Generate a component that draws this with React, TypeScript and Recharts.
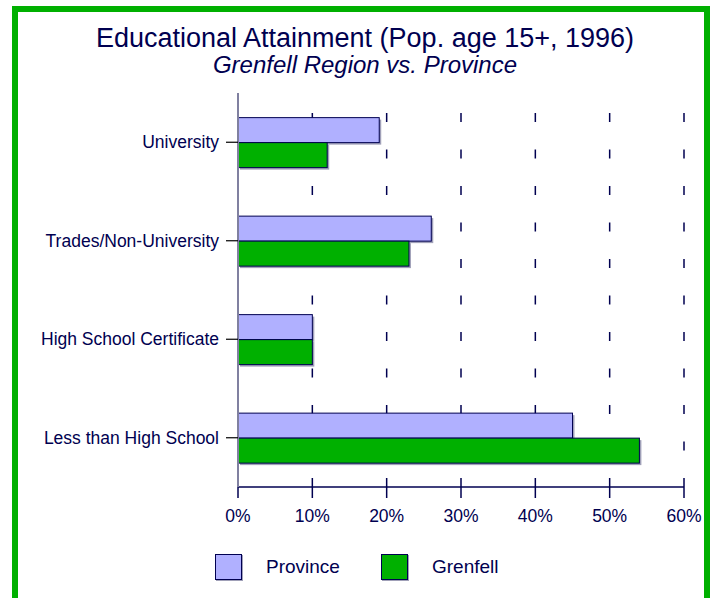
import React from 'react';
import { BarChart, Bar, XAxis, YAxis, CartesianGrid } from 'recharts';

const categories = ['University', 'Trades/Non-University', 'High School Certificate', 'Less than High School'];
const provinceValues = [19, 26, 10, 45];
const grenfellValues = [12, 23, 10, 54];
const xTicks = [0, 10, 20, 30, 40, 50, 60];

const NAVY = '#000050';
const PROVINCE_COLOR = '#b0b0ff';
const GRENFELL_COLOR = '#00b000';
const FONT = '"Liberation Sans", Arial, sans-serif';

const data = categories.map((name, i) => ({
  name,
  province: provinceValues[i],
  grenfell: grenfellValues[i],
}));

// bar with a small drop shadow like the original
const ShadowBar = (props: any) => {
  const { x, y, width, height, fill } = props;
  if (width == null || height == null) return null;
  return (
    <g>
      <rect x={x + 2} y={y + 2} width={width} height={height} fill="#a0a0b8" />
      <rect x={x} y={y} width={width} height={height} fill={fill} stroke={NAVY} strokeWidth={1} />
    </g>
  );
};

const LegendItem = ({ left, textLeft, color, label }: { left: number; textLeft: number; color: string; label: string }) => (
  <>
    <div style={{
      position: 'absolute', left, top: 554, width: 25, height: 24,
      background: color, border: `1px solid ${NAVY}`, boxShadow: '1px 1px 0 #a0a0b8',
    }} />
    <div style={{
      position: 'absolute', left: textLeft, top: 557, fontSize: 19, lineHeight: '19px',
      fontFamily: FONT, color: NAVY, whiteSpace: 'nowrap',
    }}>{label}</div>
  </>
);

export default function App() {
  return (
    <div style={{ position: 'fixed', left: 0, top: 0, width: 710, height: 598, background: '#fff', overflow: 'hidden' }}>
      <div style={{
        position: 'absolute', left: 12, top: 6, width: 698, height: 620,
        border: `6px solid ${GRENFELL_COLOR}`, boxSizing: 'border-box',
      }} />
      <div style={{
        position: 'absolute', left: 65, top: 25, width: 600, textAlign: 'center',
        fontFamily: FONT, fontSize: 27, lineHeight: '27px', color: NAVY, whiteSpace: 'nowrap',
      }}>Educational Attainment (Pop. age 15+, 1996)</div>
      <div style={{
        position: 'absolute', left: 65, top: 53, width: 600, textAlign: 'center',
        fontFamily: FONT, fontSize: 24, lineHeight: '24px', fontStyle: 'italic', color: NAVY, whiteSpace: 'nowrap',
      }}>Grenfell Region vs. Province</div>

      <div style={{ position: 'absolute', left: 0, top: 0 }}>
        <BarChart
          width={710}
          height={598}
          data={data}
          layout="vertical"
          margin={{ top: 93, right: 26, left: 0, bottom: 71 }}
          barCategoryGap="25%"
          barGap={0}
        >
          <CartesianGrid
            horizontal={false}
            stroke={NAVY}
            strokeWidth={1.5}
            strokeDasharray="9 27.5"
            strokeDashoffset={16.5}
          />
          <XAxis
            type="number"
            domain={[0, 60]}
            ticks={xTicks}
            tickFormatter={(v: number) => `${v}%`}
            axisLine={{ stroke: NAVY, strokeWidth: 1.5 }}
            tickLine={{ stroke: NAVY, strokeWidth: 1.5 }}
            tickSize={11}
            tickMargin={12}
            height={40}
            interval={0}
            tick={{ fill: NAVY, fontSize: 17.5, fontFamily: FONT }}
          />
          <YAxis
            type="category"
            dataKey="name"
            width={238}
            axisLine={{ stroke: '#8080a0', strokeWidth: 2 }}
            tickLine={{ stroke: '#000', strokeWidth: 1.2 }}
            tickSize={12}
            tickMargin={7}
            interval={0}
            tick={{ fill: NAVY, fontSize: 17.5, fontFamily: FONT }}
          />
          <Bar dataKey="province" fill={PROVINCE_COLOR} shape={ShadowBar} isAnimationActive={false} />
          <Bar dataKey="grenfell" fill={GRENFELL_COLOR} shape={ShadowBar} isAnimationActive={false} />
        </BarChart>
      </div>

      <LegendItem left={215} textLeft={266} color={PROVINCE_COLOR} label="Province" />
      <LegendItem left={381} textLeft={432} color={GRENFELL_COLOR} label="Grenfell" />
    </div>
  );
}
